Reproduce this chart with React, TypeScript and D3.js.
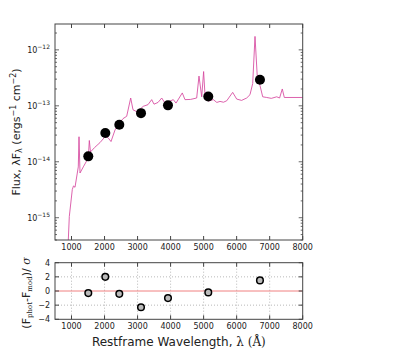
import React, { useRef, useEffect } from 'react';
import * as d3 from 'd3';

// spectrum (wavelength in Å, flux λFλ)
const specWave = [903, 933, 1024, 1060, 1106, 1205, 1227, 1257, 1357, 1508, 1539, 1575, 1700, 1862, 2014, 2105, 2196, 2317, 2440, 2559, 2671, 2792, 2862, 2983, 3173, 3316, 3428, 3498, 3620, 3731, 3830, 3960, 4082, 4164, 4354, 4436, 4600, 4790, 4860, 4942, 5000, 5050, 5150, 5293, 5400, 5496, 5600, 5699, 5880, 6002, 6150, 6304, 6404, 6486, 6556, 6625, 6707, 6789, 6910, 7050, 7213, 7300, 7382, 7443, 8000];
const specFlux = [4.0e-16, 1.05e-15, 3.2e-15, 3.7e-15, 3.5e-15, 8.1e-15, 2.8e-14, 6.3e-15, 8.1e-15, 1.17e-14, 2.4e-14, 1.5e-14, 1.8e-14, 2.2e-14, 2.8e-14, 2.7e-14, 2.3e-14, 3.7e-14, 4.8e-14, 5.9e-14, 6.5e-14, 1.38e-13, 8.5e-14, 7.8e-14, 9.8e-14, 1.05e-13, 1.29e-13, 1.07e-13, 1.15e-13, 1.38e-13, 1.12e-13, 1.2e-13, 1.29e-13, 1.12e-13, 1.7e-13, 1.29e-13, 1.3e-13, 1.38e-13, 3.4e-13, 1.45e-13, 4.1e-13, 1.29e-13, 1.22e-13, 1.29e-13, 1.15e-13, 1.2e-13, 1.16e-13, 1.23e-13, 1.74e-13, 1.32e-13, 1.25e-13, 1.38e-13, 1.58e-13, 2.5e-13, 1.74e-12, 3.3e-13, 2.3e-13, 1.45e-13, 1.41e-13, 1.36e-13, 1.45e-13, 1.38e-13, 2.0e-13, 1.41e-13, 1.41e-13];

// photometry
const photWave = [1508, 2023, 2447, 3104, 3921, 5141, 6706];
const photFlux = [1.25e-14, 3.27e-14, 4.6e-14, 7.4e-14, 1.02e-13, 1.47e-13, 2.92e-13];

// residuals (F_phot - F_mod)/sigma
const residWave = [1508, 2023, 2447, 3104, 3921, 5141, 6706];
const residVal = [-0.3, 2.0, -0.4, -2.3, -1.0, -0.2, 1.5];

const xTicks = [1000, 2000, 3000, 4000, 5000, 6000, 7000, 8000];
const logMajors = [-15, -14, -13, -12];
const residTicks = [-4, -2, 0, 2, 4];

const W = 419;
const H = 356;
const left = 55;
const right = 302.7;
const topA = 24;
const botA = 240;
const topB = 262.7;
const botB = 319.3;
const axisCol = '#444';
const textCol = '#222';
const font = 'DejaVu Sans, sans-serif';

export default function App() {
  const svgRef = useRef<SVGSVGElement>(null);

  useEffect(() => {
    const svg = d3.select(svgRef.current);
    svg.selectAll('*').remove();

    const x = d3.scaleLinear().domain([500, 8000]).range([left, right]);
    const y = d3.scaleLog().domain([4e-16, 2.9e-12]).range([botA, topA]);
    const yr = d3.scaleLinear().domain([-4, 4]).range([botB, topB]);

    // ---- top panel ----
    const clip = svg.append('clipPath').attr('id', 'clipA');
    clip.append('rect').attr('x', left).attr('y', topA).attr('width', right - left).attr('height', botA - topA);

    const line = d3.line<number>()
      .x((_, i) => x(specWave[i]))
      .y(d => y(d));

    svg.append('path')
      .datum(specFlux)
      .attr('clip-path', 'url(#clipA)')
      .attr('fill', 'none')
      .attr('stroke', '#d6489f')
      .attr('stroke-width', 1)
      .attr('stroke-opacity', 0.85)
      .attr('d', line);

    svg.append('g')
      .selectAll('circle')
      .data(photFlux)
      .join('circle')
      .attr('cx', (_, i) => x(photWave[i]))
      .attr('cy', d => y(d))
      .attr('r', 5)
      .attr('fill', 'black');

    // frame
    svg.append('rect')
      .attr('x', left).attr('y', topA)
      .attr('width', right - left).attr('height', botA - topA)
      .attr('fill', 'none').attr('stroke', axisCol).attr('stroke-width', 1);

    // x ticks (inward, top and bottom)
    const gx = svg.append('g');
    xTicks.forEach(t => {
      gx.append('line').attr('x1', x(t)).attr('x2', x(t)).attr('y1', botA).attr('y2', botA - 4).attr('stroke', axisCol);
      gx.append('line').attr('x1', x(t)).attr('x2', x(t)).attr('y1', topA).attr('y2', topA + 4).attr('stroke', axisCol);
      gx.append('text').attr('x', x(t)).attr('y', botA + 10).attr('text-anchor', 'middle')
        .attr('font-size', 8).attr('font-family', font).attr('fill', textCol).text(t);
    });

    // log y ticks
    const gy = svg.append('g');
    const [lo, hi] = y.domain();
    const allTicks = y.ticks().filter(t => t >= lo && t <= hi);
    allTicks.forEach(t => {
      const major = Math.abs(Math.log10(t) - Math.round(Math.log10(t))) < 1e-6;
      const len = major ? 4 : 2;
      gy.append('line').attr('x1', left).attr('x2', left + len).attr('y1', y(t)).attr('y2', y(t)).attr('stroke', axisCol).attr('stroke-width', 0.8);
      gy.append('line').attr('x1', right).attr('x2', right - len).attr('y1', y(t)).attr('y2', y(t)).attr('stroke', axisCol).attr('stroke-width', 0.8);
    });
    logMajors.forEach(e => {
      const tx = gy.append('text').attr('x', left - 5).attr('y', y(Math.pow(10, e)) + 3)
        .attr('text-anchor', 'end').attr('font-size', 8).attr('font-family', font).attr('fill', textCol);
      tx.append('tspan').text('10');
      tx.append('tspan').attr('font-size', 6).attr('dy', -4).text(`\u2212${Math.abs(e)}`);
    });

    // y label top
    const yl = svg.append('text')
      .attr('transform', `translate(20,${(topA + botA) / 2}) rotate(-90)`)
      .attr('text-anchor', 'middle').attr('font-size', 11).attr('font-family', font).attr('fill', textCol);
    yl.append('tspan').text('Flux, \u03bbF');
    yl.append('tspan').attr('font-size', 8).attr('dy', 2).text('\u03bb');
    yl.append('tspan').attr('dy', -2).text(' (ergs');
    yl.append('tspan').attr('font-size', 8).attr('dy', -4).text('\u22121');
    yl.append('tspan').attr('dy', 4).text(' cm');
    yl.append('tspan').attr('font-size', 8).attr('dy', -4).text('\u22122');
    yl.append('tspan').attr('dy', 4).text(')');

    // ---- bottom panel ----
    const grid = svg.append('g').attr('stroke', '#999').attr('stroke-width', 0.7).attr('stroke-dasharray', '1,2');
    xTicks.slice(0, -1).forEach(t => {
      grid.append('line').attr('x1', x(t)).attr('x2', x(t)).attr('y1', topB).attr('y2', botB);
    });
    [-2, 2].forEach(t => {
      grid.append('line').attr('x1', left).attr('x2', right).attr('y1', yr(t)).attr('y2', yr(t));
    });

    svg.append('line')
      .attr('x1', left).attr('x2', right).attr('y1', yr(0)).attr('y2', yr(0))
      .attr('stroke', '#f08080').attr('stroke-width', 1);

    svg.append('g')
      .selectAll('circle')
      .data(residVal)
      .join('circle')
      .attr('cx', (_, i) => x(residWave[i]))
      .attr('cy', d => yr(d))
      .attr('r', 3.3)
      .attr('fill', '#bbbbbb')
      .attr('stroke', 'black')
      .attr('stroke-width', 1.5);

    svg.append('rect')
      .attr('x', left).attr('y', topB)
      .attr('width', right - left).attr('height', botB - topB)
      .attr('fill', 'none').attr('stroke', axisCol).attr('stroke-width', 1);

    const gx2 = svg.append('g');
    xTicks.forEach(t => {
      gx2.append('line').attr('x1', x(t)).attr('x2', x(t)).attr('y1', botB).attr('y2', botB - 4).attr('stroke', axisCol);
      gx2.append('line').attr('x1', x(t)).attr('x2', x(t)).attr('y1', topB).attr('y2', topB + 4).attr('stroke', axisCol);
      gx2.append('text').attr('x', x(t)).attr('y', botB + 10).attr('text-anchor', 'middle')
        .attr('font-size', 8).attr('font-family', font).attr('fill', textCol).text(t);
    });
    residTicks.forEach(t => {
      gx2.append('line').attr('x1', left).attr('x2', left + 4).attr('y1', yr(t)).attr('y2', yr(t)).attr('stroke', axisCol);
      gx2.append('line').attr('x1', right).attr('x2', right - 4).attr('y1', yr(t)).attr('y2', yr(t)).attr('stroke', axisCol);
      gx2.append('text').attr('x', left - 5).attr('y', yr(t) + 3).attr('text-anchor', 'end')
        .attr('font-size', 8).attr('font-family', font).attr('fill', textCol).text(t < 0 ? `\u2212${-t}` : t);
    });

    const yl2 = svg.append('text')
      .attr('transform', `translate(30,${(topB + botB) / 2 + 2}) rotate(-90)`)
      .attr('text-anchor', 'middle').attr('font-size', 11).attr('font-family', font).attr('fill', textCol);
    yl2.append('tspan').text('(F');
    yl2.append('tspan').attr('font-size', 7).attr('font-family', 'DejaVu Serif, serif').attr('dy', 2).text('phot');
    yl2.append('tspan').attr('dy', -2).text('-F');
    yl2.append('tspan').attr('font-size', 7).attr('font-family', 'DejaVu Serif, serif').attr('dy', 2).text('mod');
    yl2.append('tspan').attr('dy', -2).text(')/ ');
    yl2.append('tspan').attr('font-style', 'italic').attr('font-family', 'DejaVu Serif, serif').text('\u03c3');

    const xl = svg.append('text')
      .attr('x', (left + right) / 2).attr('y', 346)
      .attr('text-anchor', 'middle').attr('font-size', 12).attr('font-family', font).attr('fill', textCol);
    xl.append('tspan').text('Restframe Wavelength, ');
    xl.append('tspan').attr('font-family', 'DejaVu Serif, serif').text('\u03bb (\u00c5)');
  }, []);

  return (
    <svg ref={svgRef} width={W} height={H}
      style={{ position: 'absolute', left: 0, top: 0, background: 'white' }} />
  );
}
